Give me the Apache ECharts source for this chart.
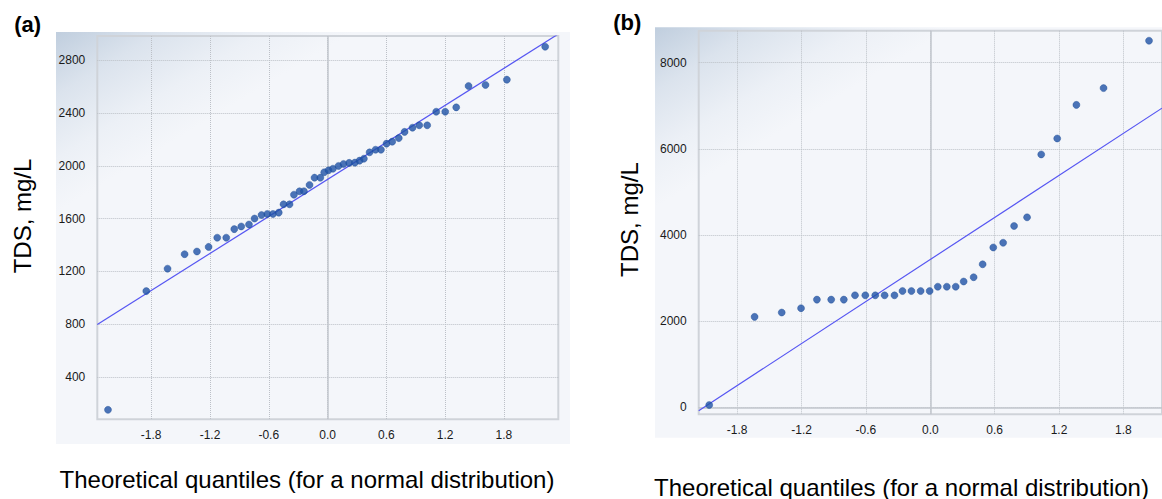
<!DOCTYPE html>
<html>
<head>
<meta charset="utf-8">
<script src="https://cdn.jsdelivr.net/npm/echarts@6/dist/echarts.min.js"></script>
<style>
html,body{margin:0;padding:0;background:#fff;}
#chart{width:1162px;height:499px;}
</style>
</head>
<body>
<div id="chart"></div>
<script>
// ---------- data ----------
// Panel (a): theoretical normal quantiles and TDS (mg/L)
var quantilesA = [-2.241,-1.850,-1.633,-1.459,-1.333,-1.214,-1.126,-1.034,-0.952,-0.881,
  -0.802,-0.745,-0.674,-0.615,-0.557,-0.498,-0.449,-0.388,-0.343,-0.286,
  -0.241,-0.184,-0.133,-0.074,-0.034,0.010,0.055,0.112,0.163,0.221,
  0.279,0.327,0.371,0.429,0.490,0.545,0.602,0.660,0.727,0.786,
  0.867,0.936,1.017,1.109,1.201,1.313,1.439,1.612,1.830,2.221];
var tdsA = [150,1050,1220,1330,1350,1385,1455,1455,1520,1540,
  1555,1600,1627,1635,1635,1645,1708,1708,1781,1807,
  1807,1855,1910,1910,1951,1966,1978,1999,2014,2022,
  2024,2039,2054,2102,2122,2122,2168,2183,2210,2257,
  2289,2307,2307,2410,2410,2443,2605,2613,2653,2903];
// Panel (b)
var quantilesB = [-2.061,-1.638,-1.385,-1.205,-1.057,-0.924,-0.806,-0.702,-0.606,-0.513,
  -0.426,-0.334,-0.259,-0.176,-0.090,-0.006,0.070,0.154,0.237,0.311,
  0.404,0.488,0.587,0.679,0.781,0.902,1.034,1.183,1.362,1.615,2.039];
var tdsB = [53,2100,2200,2300,2500,2500,2500,2600,2600,2600,
  2600,2600,2700,2700,2700,2700,2800,2800,2800,2920,
  3020,3320,3710,3820,4210,4410,5870,6240,7020,7410,8510];
// reference lines (mean + sd * z)
var fitA = [1897, 468];
var fitB = [3432, 1626];
// axis ranges and tick labels
var xRangeA = [-2.35, 2.355];
var yRangeA = [78, 2984];
var xRangeB = [-2.159, 2.16];
var yRangeB = [-162, 8742];
var xTicks = [-1.8,-1.2,-0.6,0,0.6,1.2,1.8];
var yTicksA = [400,800,1200,1600,2000,2400,2800];
var yTicksB = [0,2000,4000,6000,8000];
var panelLabels = ['(a)','(b)'];
var yTitle = 'TDS, mg/L';
var xTitle = 'Theoretical quantiles (for a normal distribution)';

// ---------- build ----------
function pairs(xs, ys){ return xs.map(function(x,i){ return [x, ys[i]]; }); }
function fitLine(fit, range){ return [[range[0], fit[0] + fit[1]*range[0]], [range[1], fit[0] + fit[1]*range[1]]]; }

var FONT = 'Liberation Sans, Arial, sans-serif';
var labelStyle = {color:'#1a1a1a', fontSize:12, fontFamily:FONT};
var splitStyle = {show:true, lineStyle:{type:[1,1], color:'#bcc0c7', width:1}};

function xAxisCfg(gi, range){
  return {type:'value', gridIndex:gi, min:range[0], max:range[1],
    axisLine:{show:false}, axisTick:{show:false, customValues:xTicks},
    axisLabel:Object.assign({customValues:xTicks, margin:10, formatter:function(v){return v.toFixed(1);}}, labelStyle),
    splitLine:splitStyle};
}
function yAxisCfg(gi, range, ticks){
  return {type:'value', gridIndex:gi, min:range[0], max:range[1],
    axisLine:{show:false}, axisTick:{show:false, customValues:ticks},
    axisLabel:Object.assign({customValues:ticks, margin:12, formatter:function(v){return String(v);}}, labelStyle),
    splitLine:splitStyle};
}
var zeroLineStyle = {color:'#c2c6cd', width:1.5, type:'solid'};
function scatter(gi, data, zeros){
  return {type:'scatter', xAxisIndex:gi, yAxisIndex:gi, data:data, symbolSize:7,
    itemStyle:{color:'#1f53a6', borderColor:'#194890', borderWidth:0.5}, z:5,
    markLine:{silent:true, symbol:'none', label:{show:false}, lineStyle:zeroLineStyle, z:1,
      data:zeros}};
}
function line(gi, data){
  return {type:'line', xAxisIndex:gi, yAxisIndex:gi, data:data, showSymbol:false, symbol:'none',
    lineStyle:{color:'#5656f2', width:1.2}, clip:true, z:4, silent:true};
}
function panelGrad(x, y){
  return {type:'linear', global:true, x:x, y:y, x2:x+80, y2:y+132,
    colorStops:[{offset:0,color:'#c0cede'},{offset:0.35,color:'#dbe3ed'},{offset:0.7,color:'#ecf0f6'},{offset:1,color:'#f4f6fa'}]};
}

var chart = echarts.init(document.getElementById('chart'), null, {renderer:'svg', width:1162, height:499});
chart.setOption({
  backgroundColor:'#ffffff',
  animation:false,
  grid:[
    {left:97.3, top:36, width:461, height:383.3, show:true, borderColor:'#cfd3d9', borderWidth:2, backgroundColor:'rgba(0,0,0,0)'},
    {left:698.7, top:30.7, width:466, height:383.6, show:true, borderColor:'#cfd3d9', borderWidth:2, backgroundColor:'rgba(0,0,0,0)'}
  ],
  xAxis:[xAxisCfg(0, xRangeA), xAxisCfg(1, xRangeB)],
  yAxis:[yAxisCfg(0, yRangeA, yTicksA), yAxisCfg(1, yRangeB, yTicksB)],
  series:[
    line(0, fitLine(fitA, xRangeA)),
    scatter(0, pairs(quantilesA, tdsA), [{xAxis:0}]),
    line(1, fitLine(fitB, xRangeB)),
    scatter(1, pairs(quantilesB, tdsB), [{xAxis:0},{yAxis:0}])
  ],
  graphic:[
    {type:'rect', z:-10, silent:true, shape:{x:56, y:32, width:514, height:412}, style:{fill:panelGrad(56,32)}},
    {type:'rect', z:-10, silent:true, shape:{x:655, y:27.3, width:520, height:410.4}, style:{fill:panelGrad(655,27.3)}},
    {type:'text', z:100, x:27.7, y:24.7, style:{text:panelLabels[0], font:'bold 22px '+FONT, fill:'#000', align:'center', verticalAlign:'middle'}},
    {type:'text', z:100, x:627.3, y:22.2, style:{text:panelLabels[1], font:'bold 22px '+FONT, fill:'#000', align:'center', verticalAlign:'middle'}},
    {type:'text', z:100, x:22, y:216, rotation:Math.PI/2, style:{text:yTitle, font:'24px '+FONT, fill:'#000', align:'center', verticalAlign:'middle'}},
    {type:'text', z:100, x:629, y:219.6, rotation:Math.PI/2, style:{text:yTitle, font:'24px '+FONT, fill:'#000', align:'center', verticalAlign:'middle'}},
    {type:'text', z:100, x:307, y:479.5, style:{text:xTitle, font:'24px '+FONT, fill:'#000', align:'center', verticalAlign:'middle'}},
    {type:'text', z:100, x:901.5, y:487, style:{text:xTitle, font:'24px '+FONT, fill:'#000', align:'center', verticalAlign:'middle'}}
  ]
});
</script>
</body>
</html>
